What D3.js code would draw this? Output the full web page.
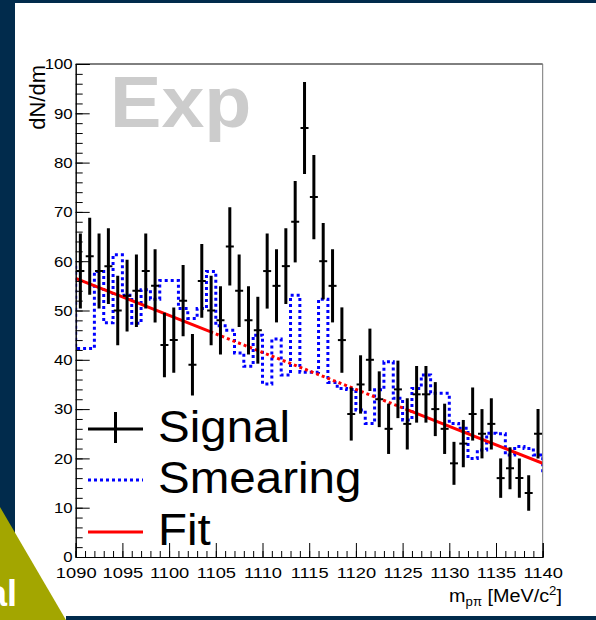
<!DOCTYPE html>
<html>
<head>
<meta charset="utf-8">
<script src="https://cdn.jsdelivr.net/npm/d3@7"></script>
<style>
  html, body { margin: 0; padding: 0; background: #ffffff; }
  svg { display: block; }
  text { font-family: "Liberation Sans", Arial, Helvetica, sans-serif; }
</style>
</head>
<body>
<svg id="chart" width="596" height="620"></svg>
<script>
// ---- data -------------------------------------------------------------
// invariant mass bins, 1 MeV wide, lower edges 1090 ... 1139
const binLow = d3.range(1090, 1140, 1);
// measured signal counts per bin
const signal = [58, 61, 58, 59, 50, 53, 54, 58, 55, 43,
                44, 52, 39, 56, 50, 48, 63, 54, 48, 46,
                58, 55, 59, 68, 87, 73, 60, 55, 44, 29,
                35, 40, 32, 26, 34, 27, 33, 33, 30, 26,
                19, 23, 29, 25, 27, 16, 18, 16, 13, 25];
// smeared template (one extra bin on each side, clipped by the frame)
const smearEdges = d3.range(1089, 1142, 1);
const smearing = [59.6,
                  42.3, 42.3, 57.9, 47.5, 61.3, 53.1, 47.4, 54.2, 52.3, 56.1,
                  56.1, 50.4, 48.4, 50.4, 57.9, 46.9, 46.0, 41.4, 38.7, 45.0,
                  35.1, 44.2, 36.9, 53.1, 37.5, 37.5, 52.3, 35.4, 34.2, 34.0,
                  29.8, 27.1, 33.9, 39.6, 32.2, 27.8, 34.2, 36.9, 33.2, 33.2,
                  27.1, 26.1, 20.0, 21.7, 25.1, 25.0, 20.7, 22.4, 22.0, 20.7,
                  16.6];
// linear background fit: value at 1090 and slope per MeV
const fitParams = [56.5, -0.75];
// window left out of the fit (drawn dotted)
const fitExcluded = [1104.4, 1125.4];
const xDomain = [1090, 1140];
const yDomain = [0, 100];
const xMajorTicks = d3.range(1090, 1141, 5);
const xMinorTicks = d3.range(1090, 1141, 1);
const yMajorTicks = d3.range(0, 101, 10);
const yMinorTicks = d3.range(0, 101, 2);
const legendLabels = ["Signal", "Smearing", "Fit"];

// ---- layout -----------------------------------------------------------
const svg = d3.select("#chart");
const W = 596, H = 620;
const frame = { left: 75.7, right: 542.7, top: 64, bottom: 557 };
const x = d3.scaleLinear().domain(xDomain).range([frame.left, frame.right]);
const y = d3.scaleLinear().domain(yDomain).range([frame.bottom, frame.top]);
const FONT = "'Liberation Sans', Arial, Helvetica, sans-serif";

// stretch text horizontally a little (wide Helvetica rendering)
function stretch(sel, k) {
  sel.each(function () {
    const w = this.getComputedTextLength();
    d3.select(this).attr("textLength", w * k).attr("lengthAdjust", "spacingAndGlyphs");
  });
}

// ---- slide background ---------------------------------------------------
const navy = "#012b4c";
svg.append("rect").attr("x", 0).attr("y", 0).attr("width", W).attr("height", H).attr("fill", "#ffffff");
svg.append("rect").attr("x", 0).attr("y", 0).attr("width", W).attr("height", 3).attr("fill", navy);
svg.append("rect").attr("x", 0).attr("y", 0).attr("width", 15).attr("height", 560).attr("fill", navy);
svg.append("rect").attr("x", 66).attr("y", 616).attr("width", W - 66).attr("height", 4).attr("fill", navy);
svg.append("path").attr("d", "M0,507 L66,620 L0,620 Z").attr("fill", "#a3a600");
svg.append("text").attr("x", 17).attr("y", 606).attr("text-anchor", "end")
  .attr("font-size", 36).attr("font-weight", "bold").attr("fill", "#ffffff").text("al");

// ---- plot ---------------------------------------------------------------
const defs = svg.append("defs");
defs.append("clipPath").attr("id", "plotClip").append("rect")
  .attr("x", frame.left).attr("y", frame.top)
  .attr("width", frame.right - frame.left).attr("height", frame.bottom - frame.top);

// watermark
const exp = svg.append("text").attr("x", 110).attr("y", 127)
  .attr("font-size", 72).attr("font-weight", "bold").attr("fill", "#cccccc").text("Exp");
stretch(exp, 1.07);

const plot = svg.append("g").attr("clip-path", "url(#plotClip)");

// smeared template as a dotted step histogram
const smearPts = smearEdges.map((e, i) => [e, smearing[Math.min(i, smearing.length - 1)]]);
plot.append("path")
  .attr("d", d3.line().x(d => x(d[0])).y(d => y(d[1])).curve(d3.curveStepAfter)(smearPts))
  .attr("fill", "none").attr("stroke", "#0000ff").attr("stroke-width", 3)
  .attr("stroke-dasharray", "3,3");

// background fit
const fitF = m => fitParams[0] + fitParams[1] * (m - xDomain[0]);
const fitLine = d3.line().x(d => x(d)).y(d => y(fitF(d)));
const fitSegs = [
  { d: [xDomain[0], fitExcluded[0]], dash: null },
  { d: [fitExcluded[0], fitExcluded[1]], dash: "3,3" },
  { d: [fitExcluded[1], xDomain[1]], dash: null }
];
plot.selectAll("path.fit").data(fitSegs).join("path").attr("class", "fit")
  .attr("d", s => fitLine(s.d)).attr("fill", "none").attr("stroke", "#ff0000")
  .attr("stroke-width", 3).attr("stroke-dasharray", s => s.dash);

// signal points with Poisson errors
const pts = binLow.map((b, i) => ({ m: b + 0.5, v: signal[i], e: Math.sqrt(signal[i]) }));
const pg = plot.selectAll("g.pt").data(pts).join("g").attr("class", "pt");
pg.append("line").attr("x1", d => x(d.m)).attr("x2", d => x(d.m))
  .attr("y1", d => y(d.v - d.e)).attr("y2", d => y(d.v + d.e))
  .attr("stroke", "#000").attr("stroke-width", 3);
pg.append("line").attr("x1", d => x(d.m) - 4).attr("x2", d => x(d.m) + 4)
  .attr("y1", d => y(d.v)).attr("y2", d => y(d.v))
  .attr("stroke", "#000").attr("stroke-width", 2);

// frame
svg.append("line").attr("x1", frame.left).attr("x2", frame.right).attr("y1", frame.top).attr("y2", frame.top)
  .attr("stroke", "#000").attr("stroke-width", 1);
svg.append("line").attr("x1", frame.right).attr("x2", frame.right).attr("y1", frame.top).attr("y2", frame.bottom)
  .attr("stroke", "#777").attr("stroke-width", 1);

// axes (ticks pointing inward)
const yAxisMinor = d3.axisLeft(y).tickValues(yMinorTicks).tickSize(-7).tickFormat("");
const yAxisMajor = d3.axisLeft(y).tickValues(yMajorTicks).tickSize(-14).tickPadding(3).tickFormat(d3.format("d"));
const xAxisMinor = d3.axisBottom(x).tickValues(xMinorTicks).tickSize(-6).tickFormat("");
const xAxisMajor = d3.axisBottom(x).tickValues(xMajorTicks).tickSize(-14).tickPadding(10).tickFormat(d3.format("d"));

function styleAxis(g) {
  g.select(".domain").attr("stroke", "#000").attr("stroke-width", 1);
  g.selectAll(".tick line").attr("stroke", "#000").attr("stroke-width", 1);
  g.selectAll(".tick text").attr("font-family", FONT).attr("font-size", 15).attr("fill", "#000");
}
svg.append("g").attr("transform", `translate(${frame.left},0)`).call(yAxisMinor).call(styleAxis);
const gy = svg.append("g").attr("transform", `translate(${frame.left},0)`).call(yAxisMajor).call(styleAxis);
svg.append("g").attr("transform", `translate(0,${frame.bottom})`).call(xAxisMinor).call(styleAxis);
const gx = svg.append("g").attr("transform", `translate(0,${frame.bottom})`).call(xAxisMajor).call(styleAxis);
stretch(gy.selectAll(".tick text"), 1.12);
stretch(gx.selectAll(".tick text"), 1.22);

// axis titles
const yt = svg.append("text").attr("transform", "translate(45,65) rotate(-90)")
  .attr("text-anchor", "end").attr("font-size", 22).text("dN/dm");
const xt = svg.append("text").attr("x", 562).attr("y", 602).attr("text-anchor", "end").attr("font-size", 18);
xt.append("tspan").text("m");
xt.append("tspan").attr("font-size", 12).attr("dy", 4).text("pπ");
xt.append("tspan").attr("dy", -4).text(" [MeV/c");
xt.append("tspan").attr("font-size", 12).attr("dy", -7).text("2");
xt.append("tspan").attr("dy", 7).text("]");
stretch(xt, 1.1);

// ---- legend -------------------------------------------------------------
const lg = svg.append("g");
const rowY = [429, 480, 532];
// Signal: cross marker
lg.append("line").attr("x1", 88).attr("x2", 143).attr("y1", rowY[0]).attr("y2", rowY[0])
  .attr("stroke", "#000").attr("stroke-width", 3);
lg.append("line").attr("x1", 115.5).attr("x2", 115.5).attr("y1", rowY[0] - 17).attr("y2", rowY[0] + 14)
  .attr("stroke", "#000").attr("stroke-width", 3);
// Smearing: dotted blue
lg.append("line").attr("x1", 88).attr("x2", 143).attr("y1", rowY[1]).attr("y2", rowY[1])
  .attr("stroke", "#0000ff").attr("stroke-width", 3).attr("stroke-dasharray", "3,3");
// Fit: red line
lg.append("line").attr("x1", 88).attr("x2", 143).attr("y1", rowY[2]).attr("y2", rowY[2])
  .attr("stroke", "#ff0000").attr("stroke-width", 3);
const lt = lg.selectAll("text.lab").data(legendLabels).join("text").attr("class", "lab")
  .attr("x", 158).attr("y", (d, i) => rowY[i] + 13).attr("font-size", 44).attr("fill", "#000").text(d => d);
stretch(lt, 1.08);
</script>
</body>
</html>
